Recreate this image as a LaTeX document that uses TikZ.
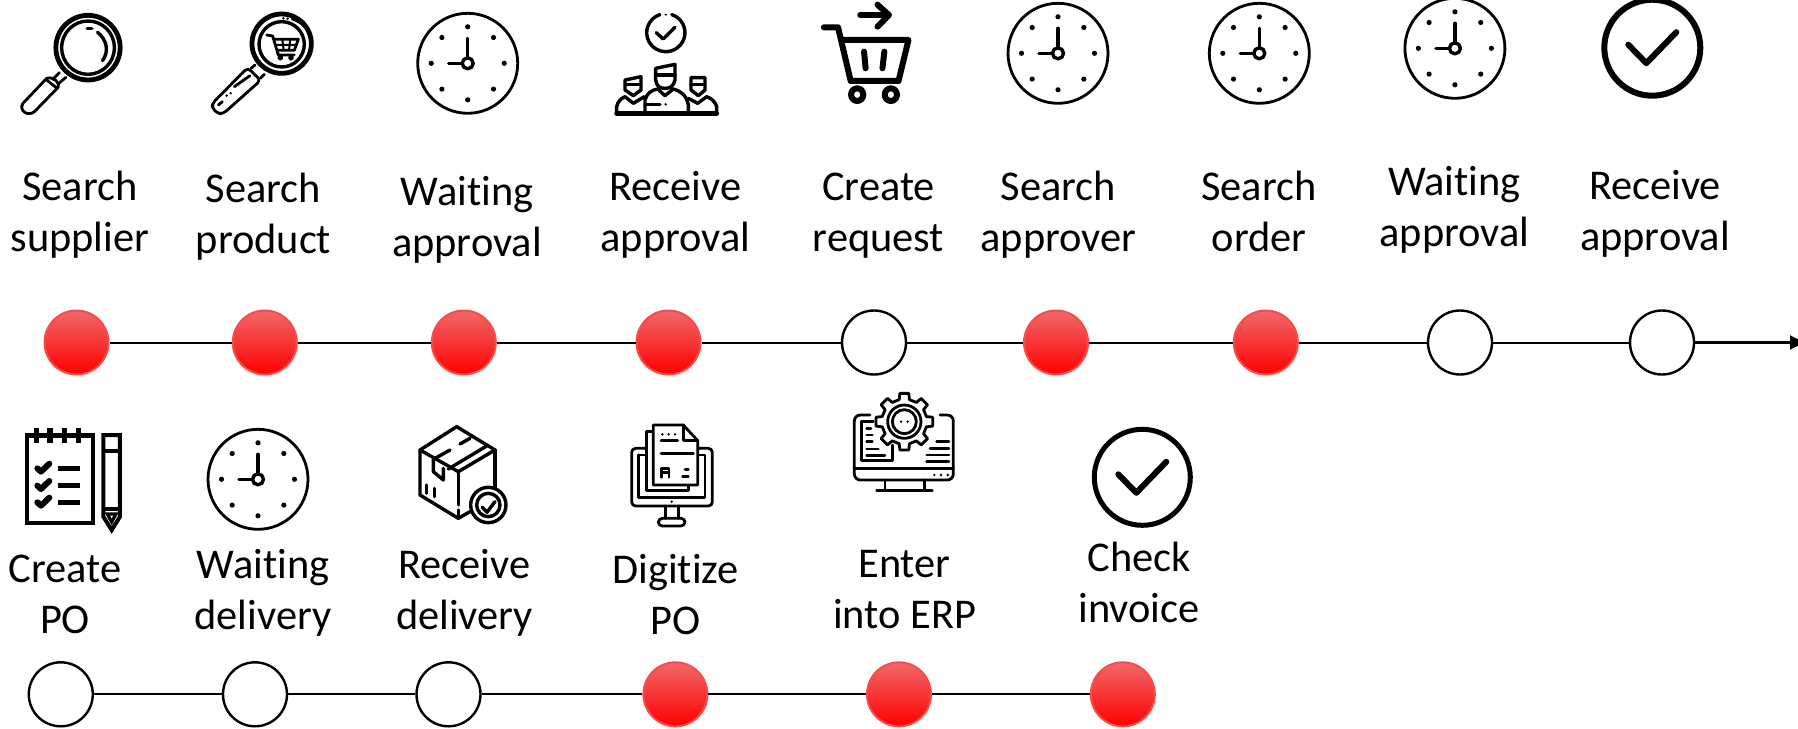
\documentclass[tikz,border=0pt]{standalone}
\usepackage{fontspec}
\setmainfont[Ligatures=NoCommon]{Carlito}
\usetikzlibrary{arrows.meta}
\tikzset{
    step label/.style={
        anchor=base,
        align=center,
        inner sep=0,
        font=\fontsize{21.2}{25.5}\selectfont,
    },
    red stop/.style={
        circle,
        draw=stopborder,
        line width=1pt,
        top color=stoptop,
        bottom color=red,
        minimum size=32pt,
        inner sep=0,
    },
    open stop/.style={
        circle,
        draw=black,
        line width=1.2pt,
        fill=white,
        minimum size=32pt,
        inner sep=0,
    },
    track line/.style={
        line width=1pt,
    },
    thin icon/.style={
        line width=1.4pt,
        line cap=round,
        line join=round,
    },
    mid icon/.style={
        line width=1.7pt,
        line cap=round,
        line join=round,
    },
    bold icon/.style={
        line width=2.4pt,
        line cap=round,
        line join=round,
    },
    heavy icon/.style={
        line width=3pt,
        line cap=round,
        line join=round,
    },
    wide zoom/.style={
        shift={(#1)},
        xscale=0.3827,
        yscale=0.3333,
    },
    fine zoom/.style={
        shift={(#1)},
        scale=0.3333,
    },
}
\definecolor{stoptop}{RGB}{240,105,105}
\definecolor{stopborder}{RGB}{248,75,75}

\newcommand\clockicon[2]{
    \begin{scope}[shift={(#1,#2)}]
        \draw[thin icon] (0,0) circle (50);
        \foreach \a in {0,45,...,315}
        {
            \fill (\a:36.5) circle (2.6);
        }
        \draw[mid icon] (0,-5.5) -- (0,-25);
        \draw[mid icon] (-5.5,0) -- (-19,0);
        \draw[mid icon] (0,0) circle (5.5);
    \end{scope}
}
\newcommand\checkicon[3]{
    \begin{scope}[shift={(#1,#2)}]
        \draw[line width=#3] (0,0) circle (48);
        \draw[heavy icon] (-24,-3) -- (-6,15.5) -- (24,-15.5);
    \end{scope}
}

\begin{document}
\begin{tikzpicture}[x=0.5pt,y=-0.5pt]
    \useasboundingbox (0,0) rectangle (1798,728);

    % labels
    \foreach \name/\x/\y/\first/\second in {
        la/80/251.5/Search/supplier,
        lb/263.5/253/Search/product,
        lc/467/256.5/Waiting/approval,
        ld/675.5/251.5/Receive/approval,
        le/878.5/251.5/Create/request,
        lf/1058.5/251.5/Search/approver,
        lg/1259/251.5/Search/order,
        lh/1454.5/246/Waiting/approval,
        li/1655/250.5/Receive/approval,
        lj/65/633.5/Create/PO,
        lk/263/629/Waiting/delivery,
        ll/464.5/629/Receive/delivery,
        lm/675.5/634/Digitize/PO,
        ln/904.5/628.5/Enter/into ERP,
        lo/1139/622/Check/invoice}
    {
        \node[step label] (\name) at (\x,\y) {\first\\\second};
    }

    % stops
    \foreach \name/\x/\kind in {
        sa/76.5/red stop, sb/264.8/red stop, sc/463.8/red stop,
        sd/668.5/red stop, se/874/open stop, sf/1056/red stop,
        sg/1265.8/red stop, sh/1460/open stop, si/1662/open stop}
    {
        \node[\kind] (\name) at (\x,342.5) {};
    }
    \foreach \name/\x/\kind in {
        ta/60.8/open stop, tb/255/open stop, tc/448.5/open stop,
        td/675.4/red stop, te/899/red stop, tf/1122.8/red stop}
    {
        \node[\kind] (\name) at (\x,694.3) {};
    }
    \coordinate (send) at (1808,342.5);
    \foreach \from/\to in {sa/sb,sb/sc,sc/sd,sd/se,se/sf,sf/sg,sg/sh,sh/si,ta/tb,tb/tc,tc/td,td/te,te/tf}
    {
        \draw[track line] (\from) -- (\to);
    }
    \draw[line width=1.3pt,-{Latex[length=9pt,width=7.5pt]}] (si) -- (send);

    % clocks and check marks
    \clockicon{467.7}{63.3}
    \clockicon{1058}{53.3}
    \clockicon{1259.3}{53.3}
    \clockicon{1454.9}{48.3}
    \clockicon{258}{479.3}
    \checkicon{1652.3}{47.7}{3pt}
    \checkicon{1142.3}{477.3}{2.5pt}

    % magnifying glass
    \begin{scope}[wide zoom={0,0}]
        \draw[bold icon] (230,143) ellipse [x radius=84,y radius=97];
        \draw[mid icon] (230,143) ellipse [x radius=69,y radius=80];
        \draw[mid icon] (255,97) .. controls (280,120) and (285,155) .. (268,182);
        \draw[mid icon] (228,86) -- (240,86);
        \draw[thin icon] (155,218) -- (138,238);
        \draw[thin icon] (172,232) -- (152,252);
        \draw[thin icon] (122,235) -- (60,310) .. controls (48,330) and (72,352) .. (90,335) -- (152,262) .. controls (158,250) and (140,228) .. (122,235) -- cycle;
        \draw[thin icon] (122,240) -- (148,264);
    \end{scope}

    % magnifying glass with cart
    \begin{scope}[fine zoom={205,5}]
        \draw[bold icon] (230,116) circle (89);
        \draw[mid icon] (230,118) circle (68);
        \draw[thin icon] (262,42) .. controls (295,52) and (315,78) .. (318,105);
        \fill (235,40) circle (4);
        \fill (248,41) circle (4);
        \draw[thin icon] (185,90) -- (203,93) -- (220,150) -- (268,150);
        \draw[thin icon] (208,103) -- (280,103) -- (268,136) -- (218,136);
        \draw[line width=1pt] (232,103) -- (236,136) (256,103) -- (252,136) (212,120) -- (274,120);
        \draw[thin icon] (226,158) circle (5);
        \draw[thin icon] (258,158) circle (5);
        \draw[thin icon] (150,180) -- (138,190);
        \draw[thin icon] (178,208) -- (166,220);
        \draw[thin icon,rounded corners=2pt] (128,188) -- (167,226) -- (55,326) -- (38,326) -- (22,310) -- (22,295) -- cycle;
        \draw[thin icon] (88,245) -- (135,212);
        \fill (65,272) circle (4);
        \fill (77,265) circle (4);
        \draw[thin icon] (40,300) -- (52,290);
    \end{scope}

    % team with check mark
    \begin{scope}[wide zoom={600,0}]
        \draw[mid icon] (172,98) ++(-72:50 and 57) arc [start angle=-72,end angle=252,x radius=50,y radius=57];
        \fill (172,44) ellipse [x radius=4,y radius=3];
        \draw[mid icon] (147,98) -- (165,117) -- (196,82);
    \end{scope}
    \begin{scope}[fine zoom={605,55}]
        \draw[mid icon] (152,40) -- (210,28) -- (210,75) .. controls (205,95) and (195,100) .. (180,100) .. controls (165,100) and (155,95) .. (152,75) -- cycle;
        \draw[mid icon] (152,60) -- (210,60);
        \draw[mid icon] (120,175) -- (120,135) .. controls (125,115) and (140,105) .. (158,102) -- (180,122) -- (205,102) .. controls (225,107) and (245,120) .. (250,150) -- (250,175);
        \draw[bold icon] (35,175) -- (335,175);
        \draw[mid icon] (60,75) -- (108,65) -- (108,105) -- (85,122) -- (60,105) -- cycle;
        \draw[mid icon] (60,88) -- (108,88);
        \draw[mid icon] (35,175) -- (35,155) .. controls (38,140) and (48,130) .. (60,125) -- (85,145) -- (118,125);
        \draw[mid icon] (258,68) -- (300,68) -- (300,105) -- (280,122) -- (258,105) -- cycle;
        \draw[mid icon] (258,88) -- (300,88);
        \draw[mid icon] (250,130) -- (278,145) -- (305,125) .. controls (320,130) and (332,142) .. (335,155) -- (335,175);
        \draw[mid icon] (122,148) -- (165,148);
        \fill (182,148) circle (4);
    \end{scope}

    % cart with arrow
    \begin{scope}[wide zoom={600,0}]
        \draw[heavy icon] (585,82) -- (622,82) -- (655,243) -- (780,243) -- (806,120) -- (635,120);
        \draw[heavy icon] (690,155) -- (694,205);
        \draw[heavy icon] (743,155) -- (738,205);
        \draw[heavy icon] (672,284) ellipse [x radius=16,y radius=19];
        \draw[heavy icon] (760,284) ellipse [x radius=16,y radius=19];
        \draw[heavy icon] (680,45) -- (752,45);
        \draw[heavy icon] (725,14) -- (755,45) -- (725,80);
    \end{scope}

    % notepad and pencil
    \begin{scope}[fine zoom={15,420}]
        \draw[line width=2.1pt] (35,47) rectangle (235,308);
        \fill (30,40) rectangle (240,54);
        \foreach \x in {65,105,148,190}
        {
            \fill (\x-8,24) rectangle (\x+8,70);
        }
        \foreach \y in {145,197,247}
        {
            \draw[heavy icon] (67,\y) -- (78,\y+10) -- (103,\y-14);
            \draw[line width=2.8pt] (128,\y) -- (195,\y);
        }
        \draw[line width=2pt] (265,45) -- (315,45) -- (315,290) -- (290,330) -- (265,290) -- cycle;
        \draw[line width=2pt] (265,92) -- (315,92);
        \draw[line width=2pt] (265,268) -- (315,268);
        \draw[line width=1.6pt,fill=white] (277,282) -- (303,282) -- (290,306) -- cycle;
    \end{scope}

    % parcel with badge
    \begin{scope}[fine zoom={405,420}]
        \draw[mid icon] (155,20) -- (270,90) -- (160,155) -- (45,90) -- cycle;
        \draw[mid icon] (45,90) -- (45,225) -- (160,295) -- (195,275);
        \draw[mid icon] (270,90) -- (270,205);
        \draw[mid icon] (160,155) -- (160,255);
        \draw[mid icon] (160,270) -- (160,295);
        \draw[mid icon] (85,118) -- (135,90);
        \draw[mid icon] (165,72) -- (195,55);
        \draw[mid icon] (130,147) -- (245,78);
        \draw[mid icon] (85,118) -- (85,155) -- (115,180) -- (115,145);
        \draw[mid icon] (65,195) -- (65,220);
        \draw[mid icon] (88,205) -- (88,230);
        \draw[mid icon,fill=white] (250,255) circle (53);
        \draw[mid icon] (250,255) circle (35);
        \draw[mid icon] (232,262) -- (246,277) -- (270,245);
    \end{scope}

    % document on a monitor
    \begin{scope}[fine zoom={625,420}]
        \draw[thin icon,rounded corners=2pt] (65,85) -- (20,85) -- (20,258) -- (262,258) -- (262,85) -- (218,85);
        \draw[thin icon] (40,105) -- (40,233) -- (240,233) -- (240,105) -- (218,105);
        \draw[thin icon] (40,105) -- (65,105);
        \draw[thin icon] (122,258) -- (122,295);
        \draw[thin icon] (160,258) -- (160,295);
        \draw[thin icon,rounded corners=2pt] (100,295) rectangle (180,318);
        \fill (140,245) circle (4);
        \draw[thin icon] (85,35) -- (65,35) -- (65,212) -- (190,212) -- (190,195);
        \draw[thin icon,fill=white] (85,15) -- (175,15) -- (218,62) -- (218,195) -- (85,195) -- cycle;
        \draw[thin icon] (175,15) -- (175,62) -- (218,62);
        \foreach \x in {112,131,150}
        {
            \fill (\x,43) circle (4);
        }
        \draw[thin icon] (108,62) -- (158,62);
        \draw[thin icon] (108,100) -- (205,100);
        \draw[thin icon] (110,172) -- (110,145) -- (132,145) -- (132,172) (110,158) -- (132,158);
        \draw[thin icon] (180,148) -- (190,148);
        \draw[thin icon] (173,170) -- (190,170);
    \end{scope}

    % gear on a monitor
    \begin{scope}[fine zoom={845,390}]
        \draw[thin icon,rounded corners=3pt] (75,75) -- (28,75) -- (28,270) -- (325,270) -- (325,75) -- (285,75);
        \draw[thin icon] (28,235) -- (325,235);
        \foreach \x in {268,288,308}
        {
            \fill (\x,255) circle (4);
        }
        \draw[thin icon] (120,270) -- (120,302);
        \draw[thin icon] (238,270) -- (238,302);
        \draw[thin icon] (95,302) -- (262,302);
        \draw[thin icon] (85,95) -- (50,95) -- (50,212) -- (142,212) -- (142,165);
        \draw[thin icon] (65,115) -- (78,115);
        \draw[thin icon] (65,135) -- (82,135);
        \draw[thin icon] (65,155) -- (82,155);
        \draw[thin icon] (65,177) -- (100,177);
        \draw[thin icon] (65,197) -- (120,197);
        \draw[thin icon] (275,155) -- (312,155);
        \draw[thin icon] (255,175) -- (312,175);
        \draw[thin icon] (245,195) -- (312,195);
        \draw[thin icon] (245,215) -- (312,215);
        \begin{scope}[shift={(178,95)}]
            \draw[thin icon,fill=white] (-13:68) \foreach \a in {0,45,...,315}
            {
                -- (\a-13:68) -- (\a-9:86) -- (\a+9:86) -- (\a+13:68)
            } -- cycle;
            \draw[thin icon] (0,0) circle (50);
            \draw[thin icon] (0,0) circle (36);
            \fill (-10,0) circle (4);
            \fill (10,0) circle (4);
        \end{scope}
    \end{scope}

\end{tikzpicture}
\end{document}
